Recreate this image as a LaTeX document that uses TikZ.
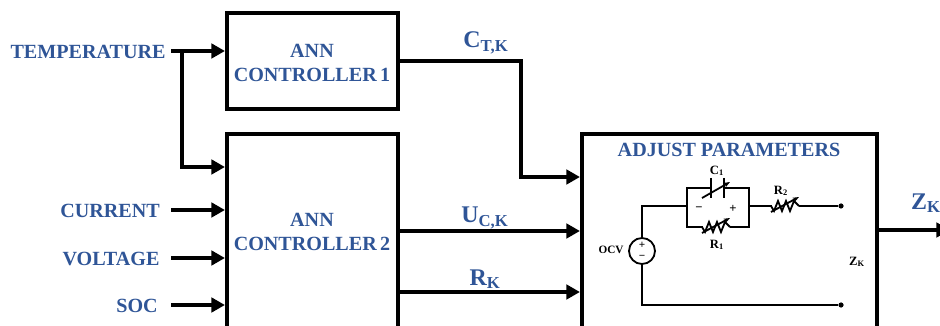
\documentclass[tikz,border=0pt]{standalone}
\usepackage{fontspec}
\setmainfont{Liberation Serif}
\usepackage{xcolor}
\definecolor{annblue}{HTML}{2F5597}
\usepackage{tikz}
\usetikzlibrary{arrows.meta,positioning,calc}

\begin{document}
\begin{tikzpicture}[
  x=0.025cm, y=-0.025cm,
  every node/.style={font=\bfseries},
  block/.style={rectangle, draw=black, line width=1.0mm, fill=white, minimum width=4.275cm, align=center, inner sep=0pt},
  lab/.style={annblue, font=\fontsize{14.3}{17}\selectfont\bfseries, align=center, inner sep=0pt},
  siglab/.style={annblue, font=\fontsize{17}{20}\selectfont\bfseries, inner sep=0pt},
  sig/.style={line width=0.9mm, -{Triangle[length=3.4mm, width=3.6mm]}},
  wire/.style={line width=0.45mm},
  small/.style={font=\fontsize{9}{10}\selectfont\bfseries, inner sep=0pt},
  term/.style={circle, fill=black, inner sep=0pt, minimum size=1.3mm},
  varres/.pic={
    \fill[white] (-13.5,-2) rectangle (13.5,2);
    \draw[wire] (-14,0) -- (-11,5) -- (-7,-5) -- (-3,5) -- (1,-5) -- (5,5) -- (9,-5) -- (14,0);
    \draw[wire, -{Stealth[length=1.6mm]}] (-14,6) -- (14,-9);
  },
]
  \useasboundingbox (0,0) rectangle (940,326);
  \clip (0,0) rectangle (940,326);

  % controllers and the parameter block
  \node[block, minimum height=2.4cm] (ann1) at (312.5,61) {};
  \node[lab] (ann1txt) at (312,63) {ANN\\CONTROLLER\,1};
  \node[block, minimum height=4.9cm] (ann2) at (312.5,232) {};
  \node[lab] (ann2txt) at (312,232) {ANN\\CONTROLLER\,2};
  \node[block, minimum width=7.375cm, minimum height=4.9cm] (adj) at (729.5,232) {};
  \node[lab] (adjtxt) at (729,150) {ADJUST PARAMETERS};

  % inputs
  \node[lab] (temp) at (88,52) {TEMPERATURE};
  \node[lab] (cur)  at (110,211) {CURRENT};
  \node[lab] (volt) at (111,259) {VOLTAGE};
  \node[lab] (soc)  at (137,306) {SOC};
  \coordinate (tempin) at (171,51);
  \coordinate (tempbr) at (182,51);
  \coordinate (curin)  at (171,210);
  \coordinate (voltin) at (171,258);
  \coordinate (socin)  at (171,305);
  \draw[sig] (tempin) -- (tempin -| ann1.west);
  \draw[sig] (tempbr) |- (ann2.west |- 0,167);
  \draw[sig] (curin) -- (curin -| ann2.west);
  \draw[sig] (voltin) -- (voltin -| ann2.west);
  \draw[sig] (socin) -- (socin -| ann2.west);

  % controller outputs
  \coordinate (ctk) at (ann1.east |- 0,61);
  \draw[sig] (ctk) -- (521,61) |- (adj.west |- 0,177);
  \draw[sig] (ann2.east |- 0,231) -- (adj.west |- 0,231);
  \draw[sig] (ann2.east |- 0,292) -- (adj.west |- 0,292);
  \coordinate (zout) at (950,230);
  \draw[sig] (adj.east |- zout) -- (zout);
  \node[siglab] (ctklab) at (486,43) {C\textsubscript{T,K}};
  \node[siglab] (ucklab) at (485,218) {U\textsubscript{C,K}};
  \node[siglab] (rklab)  at (485,279) {R\textsubscript{K}};
  \node[siglab] (zklab) at (926,203) {Z\textsubscript{K}};

  % equivalent circuit
  \node[circle, draw=black, wire, minimum size=0.65cm, inner sep=0pt] (ocv) at (642,251) {};
  \node[small, font=\fontsize{8}{8}\selectfont\bfseries] (ocvp) at (642,245) {+};
  \node[small, font=\fontsize{8}{8}\selectfont\bfseries] (ocvm) at (642,257) {\textminus};
  \node[small, font=\fontsize{8}{9}\selectfont\bfseries] (ocvlab) at (611,250) {OCV};
  \coordinate (ja) at (687,206);
  \coordinate (jb) at (749,206);
  \coordinate (capw) at (711,188);
  \coordinate (cape) at (724,188);
  \node[term] (ztop) at (841,206) {};
  \node[term] (zbot) at (841,305) {};
  \draw[wire] (ocv.north) |- (ja);
  \draw[wire] (ocv.south) |- (zbot);
  \draw[wire] (capw) -| (ja) |- (717,227) -| (jb) |- (cape);
  \draw[wire] (jb) -- (ztop);
  \draw[wire] (capw |- 0,178) -- (capw |- 0,198);
  \draw[wire] (cape |- 0,178) -- (cape |- 0,198);
  \draw[wire, -{Stealth[length=1.6mm]}] (702,198) -- (730,182);
  \pic at (716,227) {varres};
  \pic at (785,206) {varres};
  \node[small] (c1lab) at (717,171) {C\textsubscript{1}};
  \node[small] (r1lab) at (717,245) {R\textsubscript{1}};
  \node[small] (r2lab) at (781,191) {R\textsubscript{2}};
  \node[small] (minus) at (699,209) {\textminus};
  \node[small] (plus)  at (733,209) {+};
  \node[small] (zklow) at (857,262) {Z\textsubscript{K}};
\end{tikzpicture}
\end{document}
